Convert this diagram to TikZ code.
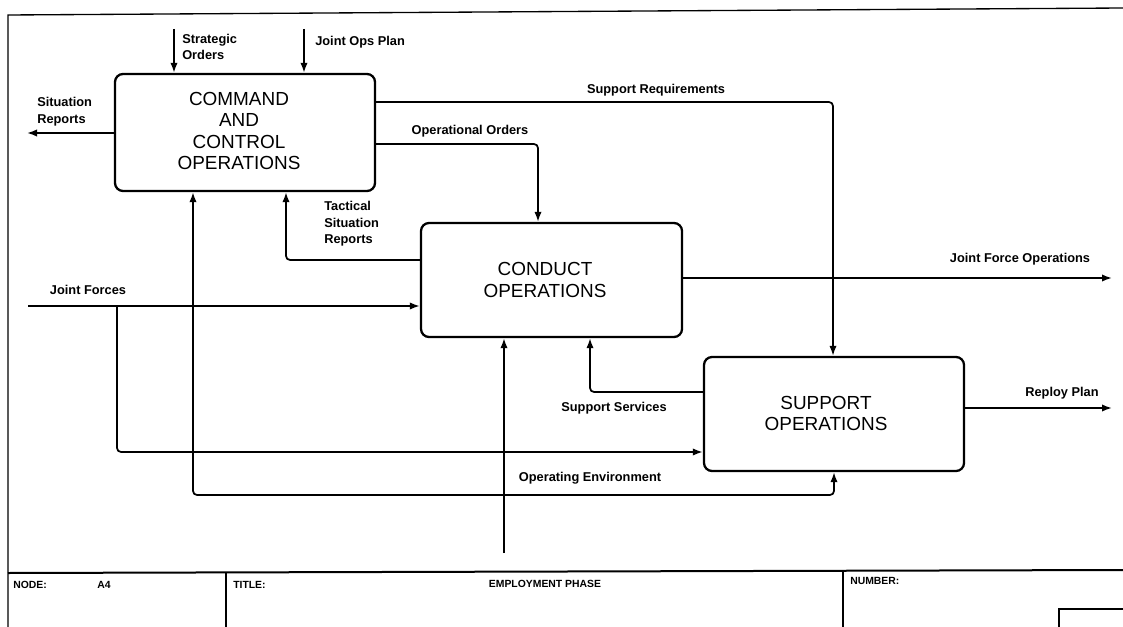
\documentclass[tikz,border=0pt]{standalone}
\usepackage{fontspec}
\setmainfont{Liberation Sans}
\usetikzlibrary{arrows.meta}
\begin{document}
\begin{tikzpicture}[x=0.75pt,y=-0.75pt,
  frame/.style={line width=1pt},
  box/.style={draw,line width=1.7pt,rounded corners=6pt,inner sep=0pt},
  boxtxt/.style={align=center,inner sep=0pt,font=\fontsize{14.2}{15.8}\selectfont},
  conn/.style={line width=1.3pt,rounded corners=3pt},
  arr/.style={conn,-{Latex[length=7.5pt,width=5.5pt]}},
  arrboth/.style={conn,{Latex[length=7.5pt,width=5.5pt]}-{Latex[length=7.5pt,width=5.5pt]}},
  lbl/.style={inner sep=0pt,align=left,font=\bfseries\fontsize{9.6}{12.5}\selectfont},
  ttl/.style={inner sep=0pt,anchor=west,font=\bfseries\fontsize{7.8}{9}\selectfont}]
\useasboundingbox (0,0) rectangle (1123,627);

% frame and title bar
\coordinate (fTL) at (8,15);
\coordinate (fTR) at (1123,8);
\coordinate (fBL) at (8,627);
\coordinate (tbL) at (8,573);
\coordinate (tbR) at (1123,570);
\draw[frame] (fTR) -- (fTL) -- (fBL);
\draw[line width=1.5pt] (tbL) -- (tbR);
\coordinate (v1t) at (226,573);
\coordinate (v1b) at (226,627);
\coordinate (v2t) at (843,571);
\coordinate (v2b) at (843,627);
\draw[frame] (v1t) -- (v1b);
\draw[frame] (v2t) -- (v2b);
\coordinate (sbA) at (1059,627);
\coordinate (sbB) at (1059,609);
\coordinate (sbC) at (1123,609);
\draw[frame] (sbA) -- (sbB) -- (sbC);
\node[ttl] (tnode) at (13,585) {NODE:};
\node[ttl] (tnodev) at (97,585) {A4};
\node[ttl] (ttitle) at (233,585) {TITLE:};
\node[ttl,anchor=center] (ttitlev) at (545,584) {EMPLOYMENT PHASE};
\node[ttl] (tnum) at (850,581) {NUMBER:};

% activity boxes
\node[box,minimum width=195pt,minimum height=87.75pt] (cc) at (245,132.5) {};
\node[boxtxt] (cctxt) at (239,131) {COMMAND\\AND\\CONTROL\\OPERATIONS};
\node[box,minimum width=195.75pt,minimum height=85.5pt] (co) at (551.5,280) {};
\node[boxtxt] (cotxt) at (545,280) {CONDUCT\\OPERATIONS};
\node[box,minimum width=195pt,minimum height=85.5pt] (sup) at (834,414) {};
\node[boxtxt] (suptxt) at (826,413.5) {SUPPORT\\OPERATIONS};

% connectors
\coordinate (so) at (174,29);
\draw[arr] (so) -- (so |- cc.north);
\node[lbl,anchor=west] (solbl) at (182,47) {Strategic\\Orders};

\coordinate (jop) at (304,29);
\draw[arr] (jop) -- (jop |- cc.north);
\node[lbl,anchor=west] (joplbl) at (315,42) {Joint Ops Plan};

\coordinate (srp) at (27,133);
\draw[arr] (cc.west |- srp) -- (srp);
\node[lbl,anchor=west] (srplbl) at (37,111.5) {Situation\\Reports};

\coordinate (sr) at (833,102);
\draw[arr] (cc.east |- sr) -- (sr) -- (sr |- sup.north);
\node[lbl] (srlbl) at (656,90) {Support Requirements};

\coordinate (oo) at (538,144);
\draw[arr] (cc.east |- oo) -- (oo) -- (oo |- co.north);
\node[lbl] (oolbl) at (470,131) {Operational Orders};

\coordinate (tsr) at (286,260);
\draw[arr] (co.west |- tsr) -- (tsr) -- (tsr |- cc.south);
\node[lbl,anchor=west] (tsrlbl) at (324,224) {Tactical\\Situation\\Reports};

\coordinate (jf) at (28,306);
\coordinate (jfb) at (117,452);
\draw[arr] (jf) -- (jf -| co.west);
\draw[arr] (jfb |- jf) -- (jfb) -- (jfb -| sup.west);
\node[lbl] (jflbl) at (88,290) {Joint Forces};

\coordinate (jfo) at (1112,278);
\draw[arr] (co.east |- jfo) -- (jfo);
\node[lbl] (jfolbl) at (1020,259) {Joint Force Operations};

\coordinate (rp) at (1112,408);
\draw[arr] (sup.east |- rp) -- (rp);
\node[lbl] (rplbl) at (1062,393) {Reploy Plan};

\coordinate (ss) at (590,392);
\draw[arr] (sup.west |- ss) -- (ss) -- (ss |- co.south);
\node[lbl] (sslbl) at (614,408) {Support Services};

\coordinate (oe) at (504,553);
\coordinate (oeL) at (193,495);
\coordinate (oeR) at (834,495);
\draw[arr] (oe) -- (oe |- co.south);
\draw[arrboth] (oeL |- cc.south) -- (oeL) -- (oeR) -- (oeR |- sup.south);
\node[lbl] (oelbl) at (590,478) {Operating Environment};
\end{tikzpicture}
\end{document}
